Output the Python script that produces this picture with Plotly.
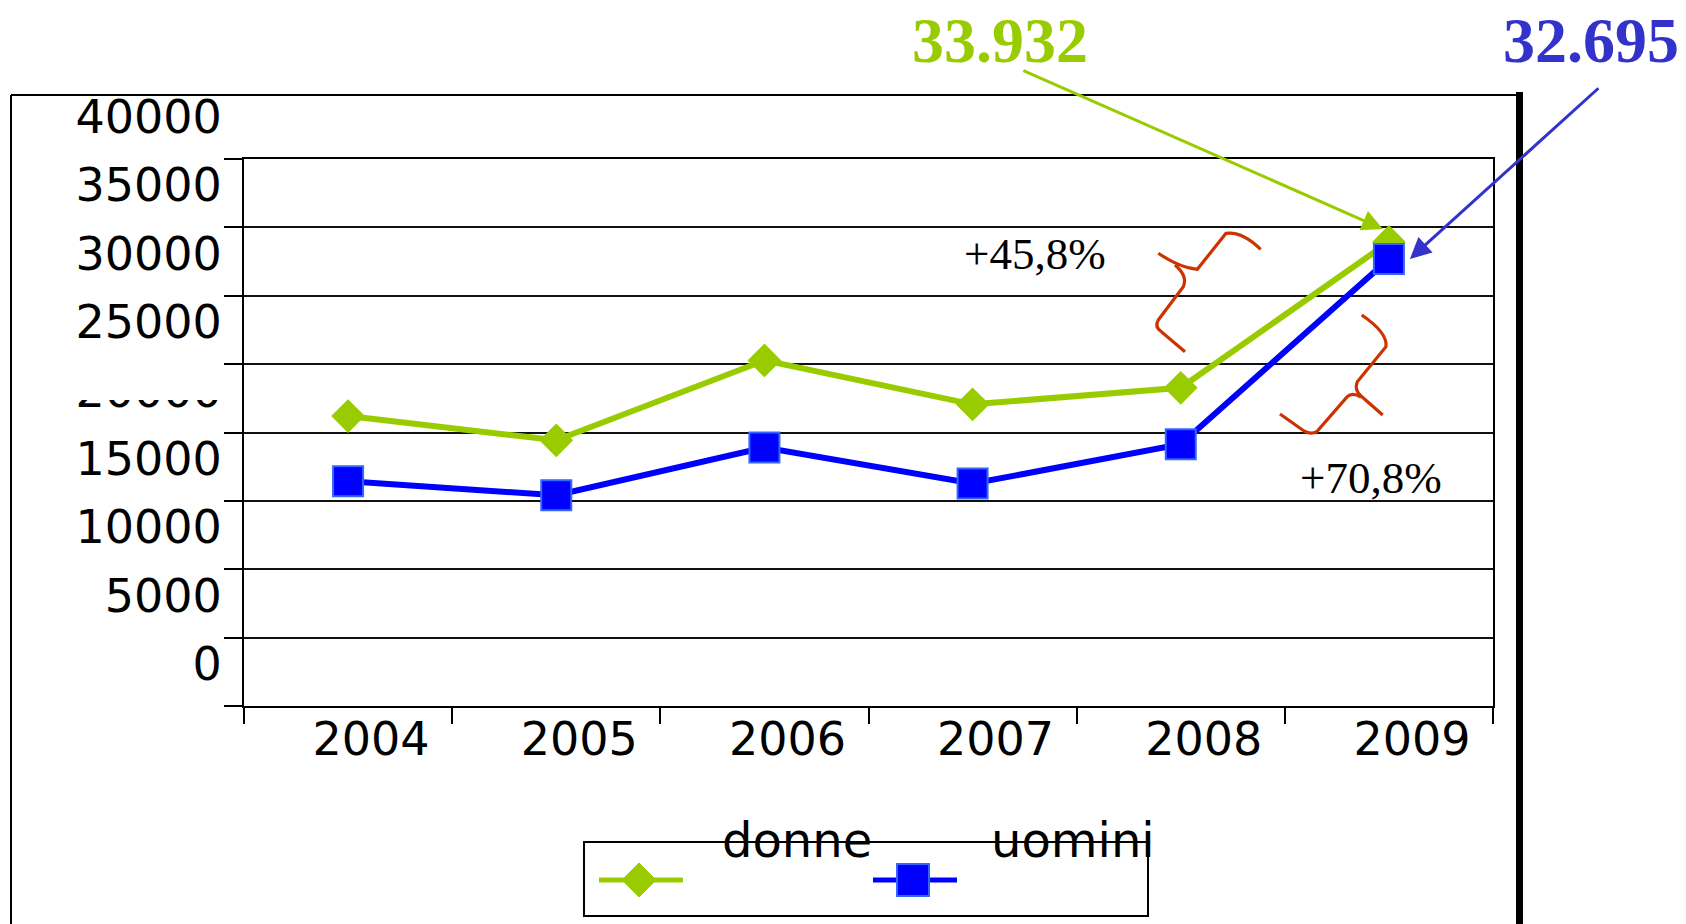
import plotly.graph_objects as go

# ---------------- data ----------------
years = ["2004", "2005", "2006", "2007", "2008", "2009"]
donne = [21200, 19430, 25270, 22060, 23270, 33932]
uomini = [16430, 15410, 18900, 16270, 19140, 32695]
y_tick_vals = [0, 5000, 10000, 15000, 20000, 25000, 30000, 35000, 40000]
y_tick_text = ["0", "5000", "10000", "15000", "20000", "25000", "30000", "35000", "40000"]
series_names = ["donne", "uomini"]
label_donne_2009 = "33.932"
label_uomini_2009 = "32.695"
pct_donne = "+45,8%"
pct_uomini = "+70,8%"

GREEN = "#99CC00"
BLUE = "#0000FF"
BLUE_TXT = "#3333CC"
RED = "#CC3300"

W, H = 1686, 924
L, T, R, B = 244, 159, 193, 218
PW, PH = W - L - R, H - T - B


def px(x):
    return (x - L) / PW


def py(y):
    return (T + PH - y) / PH


fig = go.Figure()
fig.add_trace(go.Scatter(
    x=years, y=donne, name=series_names[0], mode="lines+markers",
    line=dict(color=GREEN, width=6),
    marker=dict(symbol="diamond", size=26, color=GREEN),
    showlegend=False,
))
fig.add_trace(go.Scatter(
    x=years, y=uomini, name=series_names[1], mode="lines+markers",
    line=dict(color=BLUE, width=6),
    marker=dict(symbol="square", size=30, color=BLUE, line=dict(color="#3366FF", width=2)),
    showlegend=False,
))

tickfont = dict(family="DejaVu Sans", size=46, color="black")

fig.update_xaxes(
    type="category", range=[-0.5, len(years) - 0.5], autorange=False,
    showline=True, linecolor="black", linewidth=2, mirror=True,
    ticks="outside", tickson="boundaries", ticklen=16, tickwidth=2, tickcolor="black",
    tickfont=tickfont, ticklabelshift=23, ticklabelstandoff=-8, tickangle=0,
    showgrid=False, zeroline=False,
)
fig.update_yaxes(
    range=[0, 40000], autorange=False, tickmode="array", tickvals=y_tick_vals, ticktext=y_tick_text,
    showline=True, linecolor="black", linewidth=2, mirror=True,
    ticks="outside", ticklen=18, tickwidth=2, tickcolor="black",
    tickfont=tickfont, ticklabelshift=-42, ticklabelstandoff=-7,
    showgrid=True, gridcolor="#111111", gridwidth=2.2, zeroline=False,
)

shapes = []
# outer slide frame
shapes.append(dict(type="line", xref="paper", yref="paper", x0=px(11), y0=py(95), x1=px(1516), y1=py(95),
                   line=dict(color="black", width=2)))
shapes.append(dict(type="line", xref="paper", yref="paper", x0=px(11), y0=py(95), x1=px(11), y1=py(924),
                   line=dict(color="black", width=2)))
shapes.append(dict(type="line", xref="paper", yref="paper", x0=px(1519.5), y0=py(92), x1=px(1519.5), y1=py(924),
                   line=dict(color="black", width=7)))
# cover over upper part of the 20000 label (as in the original)
shapes.append(dict(type="rect", xref="paper", yref="paper", x0=px(40), x1=px(222), y0=py(368), y1=py(400),
                   fillcolor="white", line=dict(width=0), layer="above"))


def path(cmds):
    out = []
    for cmd, pts in cmds:
        if pts:
            out.append(cmd + " " + " ".join(f"{px(a):.5f},{py(b):.5f}" for a, b in pts))
        else:
            out.append(cmd)
    return " ".join(out)


# red braces
brace1_upper = path([("M", [(1158.3, 253.3)]), ("Q", [(1180, 268), (1197.3, 269.3)]),
                     ("L", [(1226, 233.3)]), ("Q", [(1242, 231), (1260.7, 249.3)])])
brace1_lower = path([("M", [(1175, 265)]), ("Q", [(1188, 276), (1183.3, 286.7)]),
                     ("L", [(1158.3, 320)]), ("Q", [(1154, 327), (1161.7, 332)]), ("L", [(1185, 351.7)])])
brace2_upper = path([("M", [(1361.7, 315)]), ("Q", [(1388, 333), (1386, 346.7)]),
                     ("L", [(1357.3, 381.7)]), ("Q", [(1354, 390), (1361, 396)]), ("L", [(1382.7, 415)])])
brace2_lower = path([("M", [(1361, 397)]), ("Q", [(1352, 392), (1347.3, 396.7)]),
                     ("L", [(1316.7, 431.7)]), ("Q", [(1311, 435), (1304, 431)]), ("L", [(1280, 414)])])
for p in (brace1_upper, brace1_lower, brace2_upper, brace2_lower):
    shapes.append(dict(type="path", xref="paper", yref="paper", path=p,
                       line=dict(color=RED, width=3.2), layer="above"))

# manual legend
shapes.append(dict(type="rect", xref="paper", yref="paper", x0=px(584), x1=px(1148), y0=py(842), y1=py(916),
                   line=dict(color="black", width=2), fillcolor="rgba(0,0,0,0)"))
shapes.append(dict(type="line", xref="paper", yref="paper", x0=px(599), x1=px(683), y0=py(880), y1=py(880),
                   line=dict(color=GREEN, width=5)))
shapes.append(dict(type="path", xref="paper", yref="paper",
                   path=path([("M", [(622, 880)]), ("L", [(639, 863)]), ("L", [(656, 880)]),
                              ("L", [(639, 897)]), ("Z", [])]),
                   fillcolor=GREEN, line=dict(color=GREEN, width=1)))
shapes.append(dict(type="line", xref="paper", yref="paper", x0=px(873), x1=px(957), y0=py(880), y1=py(880),
                   line=dict(color=BLUE, width=5)))
shapes.append(dict(type="rect", xref="paper", yref="paper", x0=px(897), x1=px(929), y0=py(864), y1=py(896),
                   fillcolor=BLUE, line=dict(color="#3366FF", width=2)))

last = len(years) - 1  # category index of 2009

annotations = []
# big value labels
annotations.append(dict(text=label_donne_2009, xref="paper", yref="paper", x=px(1000), y=py(40),
                        showarrow=False, xanchor="center", yanchor="middle",
                        font=dict(family="Liberation Serif", size=64, color=GREEN, weight="bold")))
annotations.append(dict(text=label_uomini_2009, xref="paper", yref="paper", x=px(1591), y=py(40),
                        showarrow=False, xanchor="center", yanchor="middle",
                        font=dict(family="Liberation Serif", size=64, color=BLUE_TXT, weight="bold")))
# arrows to 2009 points
annotations.append(dict(text="", x=last, y=donne[last], xref="x", yref="y", xshift=-6, yshift=13,
                        showarrow=True, ax=-361, ay=-159, arrowcolor=GREEN, arrowwidth=3,
                        arrowhead=2, arrowsize=1.4))
annotations.append(dict(text="", x=last, y=uomini[last], xref="x", yref="y", xshift=21, yshift=0,
                        showarrow=True, ax=190, ay=-172, arrowcolor=BLUE_TXT, arrowwidth=3,
                        arrowhead=2, arrowsize=1.4))
# percentages
annotations.append(dict(text=pct_donne, xref="paper", yref="paper", x=px(1035), y=py(254),
                        showarrow=False, xanchor="center", yanchor="middle",
                        font=dict(family="Liberation Serif", size=45, color="black")))
annotations.append(dict(text=pct_uomini, xref="paper", yref="paper", x=px(1371), y=py(478),
                        showarrow=False, xanchor="center", yanchor="middle",
                        font=dict(family="Liberation Serif", size=45, color="black")))
# legend texts
annotations.append(dict(text=series_names[0], xref="paper", yref="paper", x=px(797), y=py(840),
                        showarrow=False, xanchor="center", yanchor="middle",
                        font=dict(family="DejaVu Sans", size=48, color="black")))
annotations.append(dict(text=series_names[1], xref="paper", yref="paper", x=px(1073), y=py(840),
                        showarrow=False, xanchor="center", yanchor="middle",
                        font=dict(family="DejaVu Sans", size=48, color="black")))

fig.update_layout(
    width=W, height=H,
    margin=dict(l=L, r=R, t=T, b=B, autoexpand=False),
    paper_bgcolor="white", plot_bgcolor="white",
    shapes=shapes, annotations=annotations,
    showlegend=False,
)

fig.write_html("out.html", config={"displayModeBar": False},
               post_script="document.body.style.margin='0';")
